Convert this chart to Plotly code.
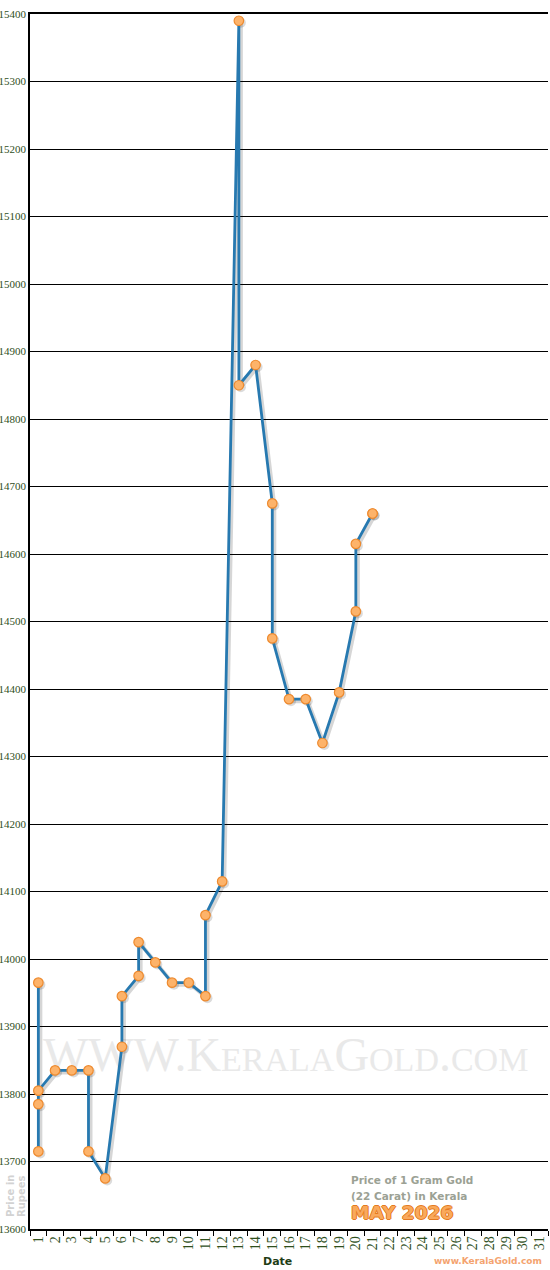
import plotly.graph_objects as go

# gold rate readings for the month, several per day on some days
days = [1, 1, 1, 1, 2, 3, 4, 4, 5, 6, 6, 7, 7, 8, 9, 10, 11, 11, 12,
        13, 13, 14, 15, 15, 16, 17, 18, 19, 20, 20, 21, 21]
prices = [13965, 13715, 13785, 13805, 13835, 13835, 13835, 13715, 13675,
          13870, 13945, 13975, 14025, 13995, 13965, 13965, 13945, 14065,
          14115, 15390, 14850, 14880, 14675, 14475, 14385, 14385, 14320,
          14395, 14515, 14615, 14660, 14660]
month_days = list(range(1, 32))
y_ticks = list(range(13600, 15401, 100))

line_blue = "#2779b0"
green = "#2f4f1c"
serif = "Liberation Serif"
sans = "DejaVu Sans"

fig = go.Figure()

# faint site name behind the line
fig.add_trace(go.Scatter(
    x=[15.8], y=[13852], mode="text",
    text=["WWW.KeralaGold.com"],
    textfont=dict(family=serif, size=48, color="#e9e9e9",
                  variant="small-caps"),
    hoverinfo="skip", showlegend=False))

# soft drop shadow
fig.add_trace(go.Scatter(
    x=[d + 0.12 for d in days], y=[p - 3 for p in prices],
    mode="lines+markers",
    line=dict(color="rgba(0,0,0,0.16)", width=4),
    marker=dict(size=10, color="rgba(0,0,0,0.14)"),
    hoverinfo="skip", showlegend=False))

fig.add_trace(go.Scatter(
    x=days, y=prices, mode="lines+markers",
    line=dict(color=line_blue, width=2.8),
    marker=dict(size=9.5, color="#fdb36a",
                line=dict(color="#ee8a2e", width=1.2)),
    showlegend=False))

fig.update_xaxes(
    range=[0.5, 31.5], tickmode="array", tickvals=month_days,
    ticktext=[str(d) for d in month_days], tickangle=-90,
    tickfont=dict(family=serif, size=14, color=green),
    ticks="", showgrid=False, zeroline=False, automargin=False,
    showline=True, linecolor="black", linewidth=1.5, mirror=True,
    minor=dict(tickmode="linear", tick0=0.5, dtick=1, ticks="outside",
               ticklen=5, tickcolor="black", tickwidth=1, showgrid=False))
fig.update_yaxes(
    range=[13600, 15400], tickmode="array", tickvals=y_ticks,
    ticktext=[str(v) for v in y_ticks],
    tickfont=dict(family=serif, size=11, color=green),
    ticks="", showgrid=True, gridcolor="black", gridwidth=1.2,
    zeroline=False, automargin=False,
    showline=True, linecolor="black", linewidth=1.5)

fig.add_annotation(
    text="<b>Date</b>", xref="paper", yref="paper", x=0.478, y=0,
    yanchor="middle", yshift=-32, showarrow=False,
    font=dict(family=sans, size=11, color="#1f3d16"))
for label, dx in [("Price in", -20), ("Rupees", -9)]:
    fig.add_annotation(
        text=f"<b>{label}</b>", xref="paper", yref="paper",
        x=0, y=0, xshift=dx, yshift=33, yanchor="middle", xanchor="center",
        textangle=-90, showarrow=False,
        font=dict(family=sans, size=10, color="#d2d2d2"))
for label, dy in [("Price of 1 Gram Gold", 49), ("(22 Carat) in Kerala", 33)]:
    fig.add_annotation(
        text=f"<b>{label}</b>", xref="paper", yref="paper",
        x=0.616, y=0.0, xanchor="left", yanchor="middle", yshift=dy,
        showarrow=False,
        font=dict(family=sans, size=10.5, color="#9ba194"))
fig.add_annotation(
    text="<b>MAY 2026</b>", xref="paper", yref="paper", x=0.616, y=0.0,
    xanchor="left", yanchor="middle", yshift=17, showarrow=False,
    font=dict(family=sans, size=18.5, color="#f9a95c",
              shadow="1px 0 0 #e47a20, -1px 0 0 #e47a20, "
                     "0 1px 0 #e47a20, 0 -1px 0 #e47a20"))
fig.add_annotation(
    text="<b>www.KeralaGold.com</b>", xref="paper", yref="paper",
    x=1, y=0, xanchor="right", yanchor="middle", yshift=-32, xshift=-4,
    showarrow=False,
    font=dict(family=sans, size=9, color="#f4a36f"))

fig.update_layout(
    width=550, height=1270,
    margin=dict(l=30, r=2, t=14, b=41),
    paper_bgcolor="white", plot_bgcolor="white",
    hovermode="closest")

fig.write_html("out.html", config={"displayModeBar": False},
               post_script="document.body.style.margin='0';")
